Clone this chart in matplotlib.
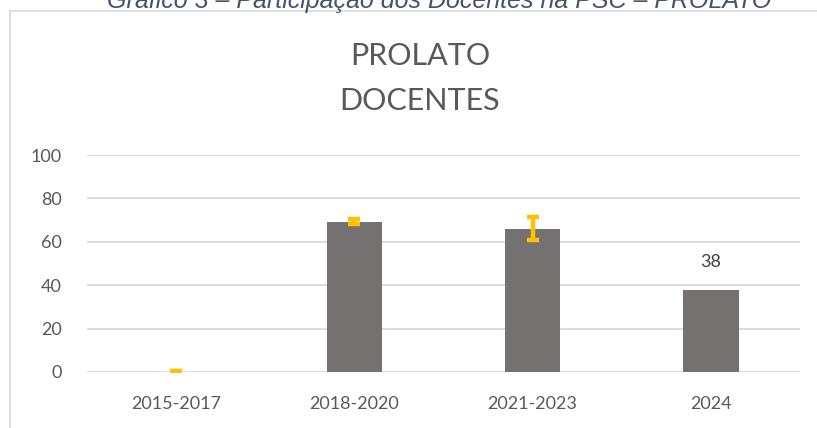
import matplotlib.pyplot as plt
from matplotlib.lines import Line2D

periodos = ['2015-2017', '2018-2020', '2021-2023', '2024']
docentes = [0, 69.3, 66, 38]
erro = [0.6, 1.0, 5.2, None]
rotulos = ['', '', '', '38']

W, H = 817, 428
fig = plt.figure(figsize=(W / 100, H / 100), dpi=100)
plt.rcParams['font.family'] = ['Lato', 'DejaVu Sans']

# caption above the chart, cut at the top like in the source document
fig.text(439.5 / W, 1 - 8 / H, 'Gráfico 3 – Participação dos Docentes na PSC – PROLATO',
         ha='center', va='baseline', fontsize=18, style='italic',
         color='#44546A', family=['Liberation Sans', 'DejaVu Sans'])

# chart frame
fig.add_artist(Line2D([10 / W, 1.01], [1 - 11 / H, 1 - 11 / H], transform=fig.transFigure,
                      color='#D9D9D9', lw=1.2))
fig.add_artist(Line2D([10 / W, 10 / W], [-0.01, 1 - 11 / H], transform=fig.transFigure,
                      color='#D9D9D9', lw=1.2))

fig.text(420 / W, 1 - 55.8 / H, 'PROLATO', ha='center', va='center', fontsize=22,
         color='#595959')
fig.text(420 / W, 1 - 101 / H, 'DOCENTES', ha='center', va='center', fontsize=22,
         color='#595959')

ax = fig.add_axes([87 / W, (H - 372) / H, (800 - 87) / W, (372 - 155) / H])
x = list(range(len(periodos)))
ax.bar(x, docentes, width=0.31, color='#767171', zorder=2)
ex = [i for i in x if erro[i] is not None]
ax.errorbar(ex, [docentes[i] for i in ex], yerr=[erro[i] for i in ex], fmt='none',
            ecolor='#FFC000', elinewidth=3.2, capsize=4.5, capthick=3.2, zorder=3)
for i, r in enumerate(rotulos):
    if r:
        ax.annotate(r, (i, docentes[i]), xytext=(0, 20), textcoords='offset points',
                    ha='center', va='center', fontsize=13, color='#404040')

ax.set_ylim(0, 100)
ax.set_xlim(-0.5, len(periodos) - 0.5)
ax.set_yticks(range(0, 101, 20))
ax.set_xticks(x)
ax.set_xticklabels(periodos)
ax.grid(axis='y', color='#D9D9D9', lw=1.3, zorder=0)
ax.set_axisbelow(True)
for s in ax.spines.values():
    s.set_visible(False)
ax.tick_params(length=0, labelsize=13, colors='#595959')
ax.tick_params(axis='y', pad=18)
ax.tick_params(axis='x', pad=17)

fig.savefig('out.png', dpi=100)
